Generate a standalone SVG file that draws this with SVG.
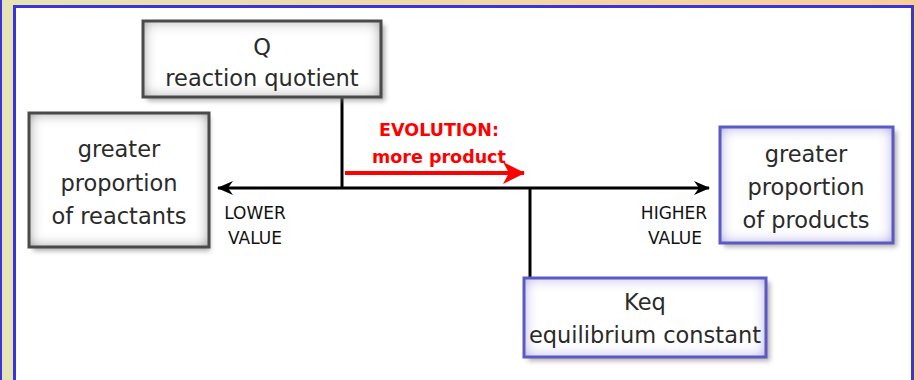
<svg xmlns="http://www.w3.org/2000/svg" width="917" height="380" viewBox="0 0 917 380">
<defs>
<linearGradient id="topband" x1="0" y1="0" x2="1" y2="0">
<stop offset="0" stop-color="#e6e4b4"/>
<stop offset="1" stop-color="#fccd98"/>
</linearGradient>
<filter id="innerGray" x="-10%" y="-10%" width="120%" height="120%">
<feFlood flood-color="#6e6e6e"/>
<feComposite in2="SourceAlpha" operator="out"/>
<feGaussianBlur stdDeviation="7"/>
<feComposite in2="SourceAlpha" operator="in" result="inner"/>
<feMerge><feMergeNode in="SourceGraphic"/><feMergeNode in="inner"/></feMerge>
</filter>
<filter id="innerBlue" x="-10%" y="-10%" width="120%" height="120%">
<feFlood flood-color="#8a84dc"/>
<feComposite in2="SourceAlpha" operator="out"/>
<feGaussianBlur stdDeviation="7"/>
<feComposite in2="SourceAlpha" operator="in" result="inner"/>
<feMerge><feMergeNode in="SourceGraphic"/><feMergeNode in="inner"/></feMerge>
</filter>
<filter id="shadow" x="-20%" y="-20%" width="140%" height="140%">
<feGaussianBlur stdDeviation="2.5"/>
</filter>
<marker id="blackHead" viewBox="0 0 16 14" refX="15" refY="7" markerWidth="16" markerHeight="14" markerUnits="userSpaceOnUse" orient="auto-start-reverse">
<path d="M0,0 L16,7 L0,14 L5,7 Z" fill="#000"/>
</marker>
<marker id="redHead" viewBox="0 0 22 22" refX="21" refY="11" markerWidth="22" markerHeight="22" markerUnits="userSpaceOnUse" orient="auto">
<path d="M0,0 L22,11 L0,22 L6,11 Z" fill="#ff0000"/>
</marker>
</defs>
<style>
.fill-gray{fill:#ffffff;filter:url(#innerGray)}
.fill-blue{fill:#ffffff;filter:url(#innerBlue)}
.border-gray{fill:none;stroke:#4a4a4a;stroke-width:3}
.border-blue{fill:none;stroke:#5c58c4;stroke-width:3}
.shadow{fill:#7a7a7a;opacity:0.6;filter:url(#shadow)}
.node-text{font-family:"DejaVu Sans","Liberation Sans",sans-serif;font-size:22.5px;fill:#2a2a2a;text-anchor:middle}
.axis-text{font-family:"DejaVu Sans","Liberation Sans",sans-serif;font-size:17px;fill:#111;text-anchor:middle}
.red-text{font-family:"DejaVu Sans","Liberation Sans",sans-serif;font-size:17.5px;font-weight:bold;fill:#ff0000;text-anchor:middle}
.axis{stroke:#000;stroke-width:3;fill:none}
</style>

<!-- frame -->
<rect x="0" y="0" width="917" height="380" fill="#ffffff"/>
<rect x="0" y="0" width="917" height="6" fill="url(#topband)"/>
<rect x="0" y="0" width="14" height="380" fill="#e6e4b4"/>
<rect x="913" y="0" width="4" height="380" fill="#fccd98"/>
<rect x="0" y="0" width="2" height="380" fill="#3b34d8"/>
<path d="M14.5,380 V6.5 H912.5 V380" fill="none" stroke="#3b34d8" stroke-width="3"/>

<!-- connectors -->
<g id="connectors">
<line class="axis" x1="218" y1="188" x2="709" y2="188" marker-start="url(#blackHead)" marker-end="url(#blackHead)"/>
<line class="axis" x1="342" y1="97" x2="342" y2="188"/>
<line class="axis" x1="530" y1="188" x2="530" y2="278"/>
<line x1="345" y1="173" x2="524" y2="173" stroke="#ff0000" stroke-width="4" marker-end="url(#redHead)"/>
<text class="red-text" x="439" y="136">EVOLUTION:</text>
<text class="red-text" x="439" y="163">more product</text>
<text class="axis-text" x="255" y="219">LOWER</text>
<text class="axis-text" x="255" y="244">VALUE</text>
<text class="axis-text" x="674" y="219">HIGHER</text>
<text class="axis-text" x="675" y="244">VALUE</text>
</g>

<g id="node-q">
<rect class="shadow" x="147" y="25" width="238" height="76"/>
<rect class="fill-gray" x="143" y="21" width="238" height="76"/>
<rect class="border-gray" x="143" y="21" width="238" height="76"/>
<text class="node-text" x="262" y="55">Q</text>
<text class="node-text" x="262" y="86">reaction quotient</text>
</g>

<g id="node-reactants">
<rect class="shadow" x="33" y="117" width="177" height="134"/>
<rect class="fill-gray" x="29" y="113" width="180" height="134"/>
<rect class="border-gray" x="29" y="113" width="180" height="134"/>
<text class="node-text" x="119" y="157">greater</text>
<text class="node-text" x="119" y="191">proportion</text>
<text class="node-text" x="119" y="224">of reactants</text>
</g>

<g id="node-products">
<rect class="shadow" x="724" y="131" width="173" height="116"/>
<rect class="fill-blue" x="720" y="127" width="173" height="116"/>
<rect class="border-blue" x="720" y="127" width="173" height="116"/>
<text class="node-text" x="806" y="162">greater</text>
<text class="node-text" x="806" y="195">proportion</text>
<text class="node-text" x="806" y="228">of products</text>
</g>

<g id="node-keq">
<rect class="shadow" x="528" y="282" width="242" height="79"/>
<rect class="fill-blue" x="524" y="278" width="242" height="79"/>
<rect class="border-blue" x="524" y="278" width="242" height="79"/>
<text class="node-text" x="645" y="310">Keq</text>
<text class="node-text" x="645" y="343">equilibrium constant</text>
</g>
</svg>
